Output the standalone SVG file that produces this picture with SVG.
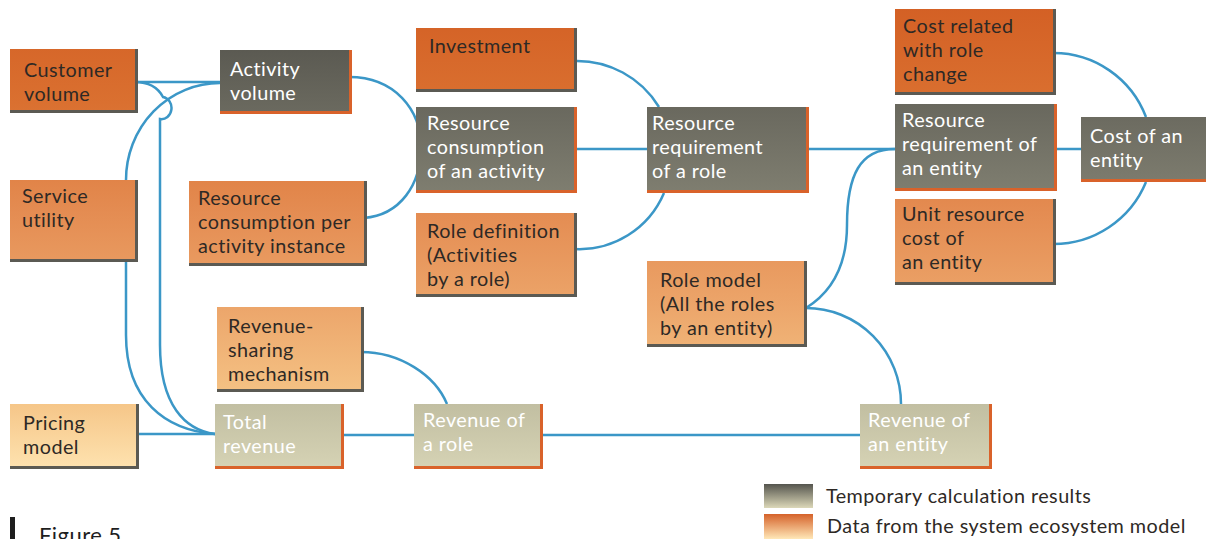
<svg xmlns="http://www.w3.org/2000/svg" width="1206" height="539" viewBox="0 0 1206 539">
  <defs>
    <!-- page-wide vertical ramps: boxes higher up are darker -->
    <linearGradient id="gO" gradientUnits="userSpaceOnUse" x1="0" y1="0" x2="0" y2="470">
      <stop offset="0" stop-color="#d35f24"/>
      <stop offset="0.22" stop-color="#da7030"/>
      <stop offset="0.45" stop-color="#e48c52"/>
      <stop offset="0.65" stop-color="#eca56a"/>
      <stop offset="0.85" stop-color="#f5c486"/>
      <stop offset="1" stop-color="#fee3b0"/>
    </linearGradient>
    <linearGradient id="gG" gradientUnits="userSpaceOnUse" x1="0" y1="50" x2="0" y2="470">
      <stop offset="0" stop-color="#5b5a52"/>
      <stop offset="0.35" stop-color="#807f71"/>
      <stop offset="0.8" stop-color="#bcb99c"/>
      <stop offset="1" stop-color="#d6d3b5"/>
    </linearGradient>
    <linearGradient id="lgG" x1="0" y1="0" x2="0" y2="1">
      <stop offset="0" stop-color="#55554e"/>
      <stop offset="1" stop-color="#dcd8b8"/>
    </linearGradient>
    <linearGradient id="lgO" x1="0" y1="0" x2="0" y2="1">
      <stop offset="0" stop-color="#d5622a"/>
      <stop offset="1" stop-color="#ffe8b8"/>
    </linearGradient>
  </defs>
  <style>
    .bo { fill: url(#gO); }
    .so { fill: #5b5a53; }
    .bg { fill: url(#gG); }
    .sg { fill: #d9622a; }
    text { font-family: Lato, "Open Sans", sans-serif; font-size: 19.8px; letter-spacing: 0.45px; }
    .td { fill: #2e2925; }
    .tw { fill: #ffffff; }
    .conn { fill: none; stroke: #3b97c7; stroke-width: 2.5; }
  </style>
  <rect width="1206" height="539" fill="#ffffff"/>

  <g id="connectors">
    <path class="conn" d="M135,82 L220,82"/>
    <path class="conn" d="M135,82 Q155,82 163,97 A9,10 0 0 1 160,119 L160,345 C160,405 185,430 215,434"/>
    <path class="conn" d="M126,180 A94,97 0 0 1 220,83"/>
    <path class="conn" d="M126,259 L126,335 C126,400 165,430 215,434"/>
    <path class="conn" d="M136,434 L215,434"/>
    <path class="conn" d="M341,435 L414,435"/>
    <path class="conn" d="M540,435 L860,435"/>
    <path class="conn" d="M361,352 C400,352 435,375 447,404"/>
    <path class="conn" d="M349,77 C395,77 421,110 421,147 C421,185 400,215 364,218"/>
    <path class="conn" d="M574,61 A96,96 0 0 1 659,107"/>
    <path class="conn" d="M574,249 A92,92 0 0 0 664,193"/>
    <path class="conn" d="M574,149 L647,149"/>
    <path class="conn" d="M806,149 L895,149"/>
    <path class="conn" d="M806,308 C835,290 847,260 847,225 C847,175 860,149 895,149"/>
    <path class="conn" d="M806,308 A95,96 0 0 1 901,404"/>
    <path class="conn" d="M1054,149 L1081,149"/>
    <path class="conn" d="M1053,53 A99,100 0 0 1 1146,117"/>
    <path class="conn" d="M1053,244 A100,100 0 0 0 1146,182"/>
  </g>

  <g id="customer-volume">
    <rect class="so" x="10" y="49" width="128" height="64"/>
    <rect class="bo" x="10" y="49" width="125" height="61"/>
    <text class="td"><tspan x="24" y="77">Customer</tspan><tspan x="24" y="101">volume</tspan></text>
  </g>
  <g id="activity-volume">
    <rect class="sg" x="220" y="50" width="132" height="64"/>
    <rect class="bg" x="220" y="50" width="129" height="61"/>
    <text class="tw"><tspan x="230" y="76">Activity</tspan><tspan x="230" y="100">volume</tspan></text>
  </g>
  <g id="service-utility">
    <rect class="so" x="10" y="180" width="128" height="82"/>
    <rect class="bo" x="10" y="180" width="125" height="79"/>
    <text class="td"><tspan x="22" y="203">Service</tspan><tspan x="22" y="227">utility</tspan></text>
  </g>
  <g id="resource-per-instance">
    <rect class="so" x="189" y="181" width="178" height="85"/>
    <rect class="bo" x="189" y="181" width="175" height="82"/>
    <text class="td"><tspan x="198" y="205">Resource</tspan><tspan x="198" y="229">consumption per</tspan><tspan x="198" y="253">activity instance</tspan></text>
  </g>
  <g id="investment">
    <rect class="so" x="416" y="28" width="161" height="64"/>
    <rect class="bo" x="416" y="28" width="158" height="61"/>
    <text class="td" x="429" y="53">Investment</text>
  </g>
  <g id="resource-consumption-activity">
    <rect class="sg" x="416" y="107" width="161" height="86"/>
    <rect class="bg" x="416" y="107" width="158" height="83"/>
    <text class="tw"><tspan x="427" y="130">Resource</tspan><tspan x="427" y="154">consumption</tspan><tspan x="427" y="178">of an activity</tspan></text>
  </g>
  <g id="role-definition">
    <rect class="so" x="416" y="213" width="161" height="84"/>
    <rect class="bo" x="416" y="213" width="158" height="81"/>
    <text class="td"><tspan x="427" y="238">Role definition</tspan><tspan x="427" y="262">(Activities</tspan><tspan x="427" y="286">by a role)</tspan></text>
  </g>
  <g id="resource-requirement-role">
    <rect class="sg" x="647" y="107" width="162" height="86"/>
    <rect class="bg" x="647" y="107" width="159" height="83"/>
    <text class="tw"><tspan x="652" y="130">Resource</tspan><tspan x="652" y="154">requirement</tspan><tspan x="652" y="178">of a role</tspan></text>
  </g>
  <g id="role-model">
    <rect class="so" x="647" y="261" width="160" height="86"/>
    <rect class="bo" x="647" y="261" width="157" height="83"/>
    <text class="td"><tspan x="660" y="287">Role model</tspan><tspan x="660" y="311">(All the roles</tspan><tspan x="660" y="335">by an entity)</tspan></text>
  </g>
  <g id="cost-role-change">
    <rect class="so" x="895" y="9" width="161" height="86"/>
    <rect class="bo" x="895" y="9" width="158" height="83"/>
    <text class="td"><tspan x="903" y="33">Cost related</tspan><tspan x="903" y="57">with role</tspan><tspan x="903" y="81">change</tspan></text>
  </g>
  <g id="resource-requirement-entity">
    <rect class="sg" x="895" y="104" width="162" height="87"/>
    <rect class="bg" x="895" y="104" width="159" height="84"/>
    <text class="tw"><tspan x="902" y="127">Resource</tspan><tspan x="902" y="151">requirement of</tspan><tspan x="902" y="175">an entity</tspan></text>
  </g>
  <g id="unit-resource-cost">
    <rect class="so" x="895" y="199" width="161" height="86"/>
    <rect class="bo" x="895" y="199" width="158" height="83"/>
    <text class="td"><tspan x="902" y="221">Unit resource</tspan><tspan x="902" y="245">cost of</tspan><tspan x="902" y="269">an entity</tspan></text>
  </g>
  <g id="cost-of-entity">
    <rect class="sg" x="1081" y="117" width="131" height="65"/>
    <rect class="bg" x="1081" y="117" width="128" height="62"/>
    <text class="tw"><tspan x="1090" y="143">Cost of an</tspan><tspan x="1090" y="167">entity</tspan></text>
  </g>
  <g id="revenue-sharing">
    <rect class="so" x="217" y="307" width="147" height="85"/>
    <rect class="bo" x="217" y="307" width="144" height="82"/>
    <text class="td"><tspan x="228" y="333">Revenue-</tspan><tspan x="228" y="357">sharing</tspan><tspan x="228" y="381">mechanism</tspan></text>
  </g>
  <g id="pricing-model">
    <rect class="so" x="10" y="404" width="129" height="65"/>
    <rect class="bo" x="10" y="404" width="126" height="62"/>
    <text class="td"><tspan x="23" y="430">Pricing</tspan><tspan x="23" y="454">model</tspan></text>
  </g>
  <g id="total-revenue">
    <rect class="sg" x="215" y="404" width="129" height="65"/>
    <rect class="bg" x="215" y="404" width="126" height="62"/>
    <text class="tw"><tspan x="223" y="429">Total</tspan><tspan x="223" y="453">revenue</tspan></text>
  </g>
  <g id="revenue-role">
    <rect class="sg" x="414" y="404" width="129" height="65"/>
    <rect class="bg" x="414" y="404" width="126" height="62"/>
    <text class="tw"><tspan x="423" y="427">Revenue of</tspan><tspan x="423" y="451">a role</tspan></text>
  </g>
  <g id="revenue-entity">
    <rect class="sg" x="860" y="404" width="132" height="65"/>
    <rect class="bg" x="860" y="404" width="129" height="62"/>
    <text class="tw"><tspan x="868" y="427">Revenue of</tspan><tspan x="868" y="451">an entity</tspan></text>
  </g>

  <g id="legend">
    <rect x="764" y="484" width="49" height="24" fill="url(#lgG)"/>
    <text class="td" x="826" y="503">Temporary calculation results</text>
    <rect x="764" y="514" width="49" height="25" fill="url(#lgO)"/>
    <text class="td" x="827" y="533">Data from the system ecosystem model</text>
  </g>

  <g id="caption">
    <rect x="10" y="517" width="5" height="22" fill="#1e1e1e"/>
    <text x="39" y="543" style="font-size:22px" fill="#1e1e1e">Figure 5</text>
  </g>
</svg>
